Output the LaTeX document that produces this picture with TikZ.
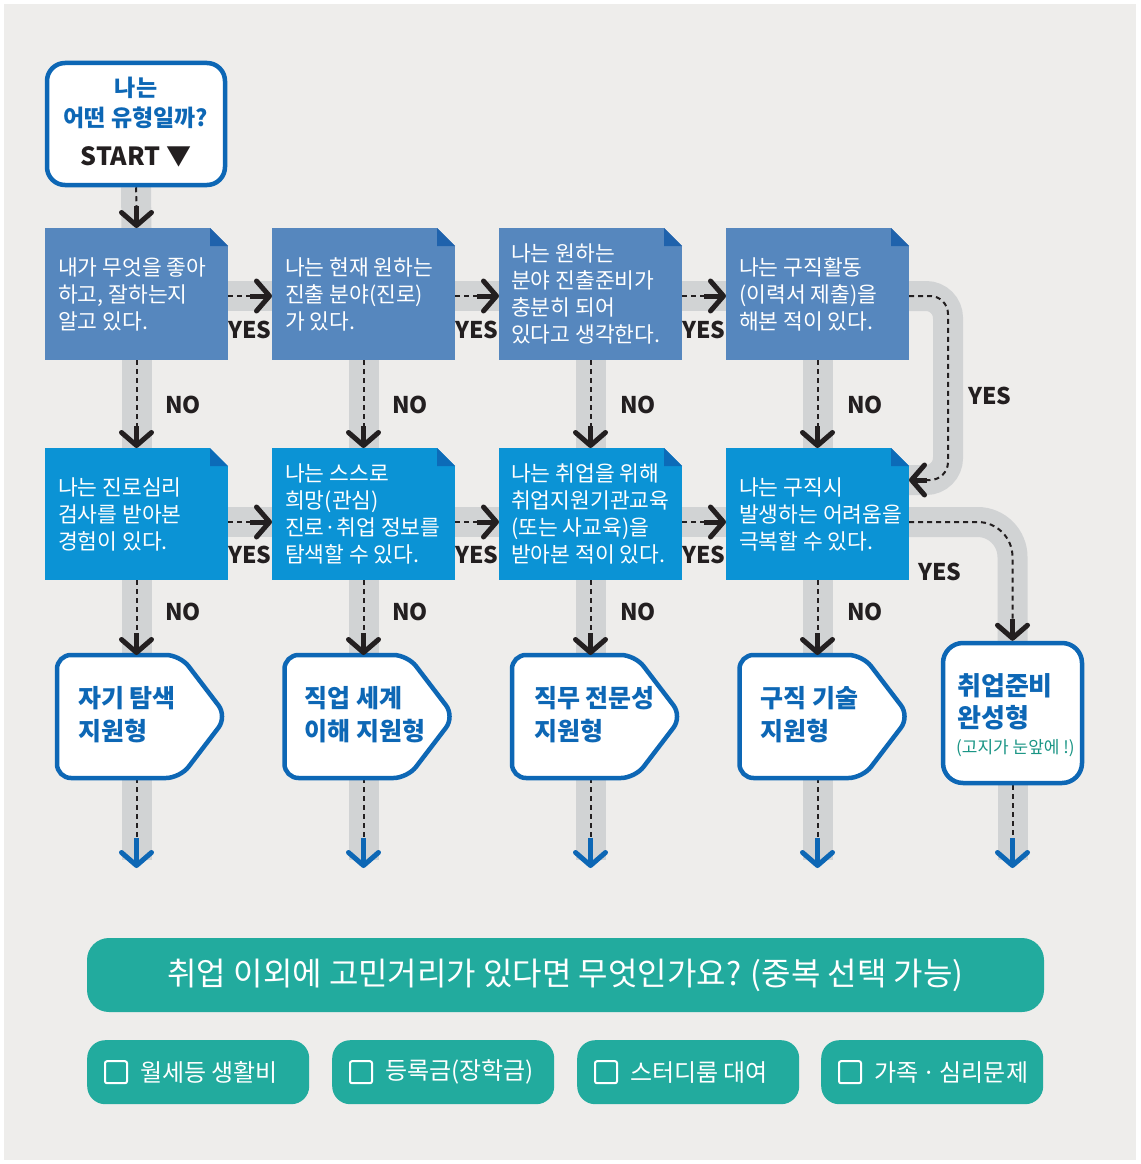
\documentclass[tikz,border=0pt]{standalone}
\usepackage{fontspec}
\setmainfont{Noto Sans CJK KR}
\usetikzlibrary{arrows.meta,calc}
\definecolor{bg}{HTML}{EEEDEB}
\definecolor{bandgray}{HTML}{D1D3D4}
\definecolor{row1}{HTML}{5687BE}
\definecolor{fold1}{HTML}{1F62AC}
\definecolor{row2}{HTML}{0B93D5}
\definecolor{fold2}{HTML}{0C6BB8}
\definecolor{navy}{HTML}{0D67B5}
\definecolor{teal}{HTML}{22AB9E}
\definecolor{tealtext}{HTML}{1A9585}
\definecolor{ink}{HTML}{231F20}
\pgfdeclarelayer{back}
\pgfdeclarelayer{mid}
\pgfsetlayers{back,mid,main}
\begin{document}
\begin{tikzpicture}[x=1pt,y=-1pt,
  q1/.style={fill=row1, minimum width=183pt, minimum height=132pt, anchor=north west, inner sep=0pt, outer sep=0pt},
  q2/.style={q1, fill=row2},
  qt/.style={anchor=west, align=left, text=white, font=\fontsize{21.5}{27}\selectfont, inner sep=0pt},
  band/.style={line width=30pt, draw=bandgray},
  dsh/.style={line width=2pt, draw=ink, dash pattern=on 5pt off 4pt},
  arr/.style={line width=5pt, draw=ink, -{Straight Barb[length=13pt,width=30pt,round]}},
  barr/.style={arr, draw=navy},
  lbl/.style={font=\fontsize{23}{23}\selectfont\bfseries, text=ink, inner sep=0pt},
  res/.style={minimum width=170pt, minimum height=123pt, anchor=north west, inner sep=0pt, outer sep=0pt},
  rline/.style={draw=navy, line width=4.5pt, fill=white, rounded corners=14pt},
  rt/.style={anchor=west, align=left, text=navy, font=\fontsize{25}{33}\selectfont\bfseries, inner sep=0pt},
  btn/.style={fill=teal, rounded corners=18pt, minimum width=222pt, minimum height=64pt, anchor=north west, inner sep=0pt},
  chk/.style={draw=white, line width=2pt, rounded corners=2pt, minimum size=22pt, inner sep=0pt, anchor=west},
  bt/.style={anchor=west, text=white, font=\fontsize{24}{24}\selectfont, inner sep=0pt}
]
\useasboundingbox (0,0) rectangle (1140,1164);
\begin{pgfonlayer}{back}
\fill[white] (0,0) rectangle (1140,1164);
\fill[bg] (4,4) rectangle (1136,1160);
\end{pgfonlayer}

% start
\node[draw=navy, line width=4.5pt, fill=white, rounded corners=18pt, minimum width=178pt, minimum height=122pt, inner sep=0pt] (st) at (136,124) {};
\node[align=center, inner sep=0pt, text=navy, font=\fontsize{23}{30}\selectfont\bfseries] (stt) at (136,103) {나는\\어떤 유형일까?};
\node[inner sep=0pt, text=ink, font=\fontsize{25}{25}\selectfont\bfseries] (sts) at (136,157) {START ▼};

% question boxes
\node[q1] (b11) at (45,228) {};
\node[q1] (b12) at (272,228) {};
\node[q1] (b13) at (499,228) {};
\node[q1] (b14) at (726,228) {};
\node[q2] (b21) at (45,448) {};
\node[q2] (b22) at (272,448) {};
\node[q2] (b23) at (499,448) {};
\node[q2] (b24) at (726,448) {};
\foreach \b in {b11,b12,b13,b14}{
  \fill[bg] ($(\b.north east)+(-18,0)$) -- (\b.north east) -- ($(\b.north east)+(0,18)$) -- cycle;
  \fill[fold1] ($(\b.north east)+(-18,0)$) -- ($(\b.north east)+(-18,18)$) -- ($(\b.north east)+(0,18)$) -- cycle;
}
\foreach \b in {b21,b22,b23,b24}{
  \fill[bg] ($(\b.north east)+(-18,0)$) -- (\b.north east) -- ($(\b.north east)+(0,18)$) -- cycle;
  \fill[fold2] ($(\b.north east)+(-18,0)$) -- ($(\b.north east)+(-18,18)$) -- ($(\b.north east)+(0,18)$) -- cycle;
}
\node[qt] (t11) at ($(b11.west)+(13,0)$) {내가 무엇을 좋아\\하고, 잘하는지\\알고 있다.};
\node[qt] (t12) at ($(b12.west)+(13,0)$) {나는 현재 원하는\\진출 분야(진로)\\가 있다.};
\node[qt] (t13) at ($(b13.west)+(12,0)$) {나는 원하는\\분야 진출준비가\\충분히 되어\\있다고 생각한다.};
\node[qt] (t14) at ($(b14.west)+(13,0)$) {나는 구직활동\\(이력서 제출)을\\해본 적이 있다.};
\node[qt] (t21) at ($(b21.west)+(13,0)$) {나는 진로심리\\검사를 받아본\\경험이 있다.};
\node[qt] (t22) at ($(b22.west)+(13,0)$) {나는 스스로\\희망(관심)\\진로·취업 정보를\\탐색할 수 있다.};
\node[qt] (t23) at ($(b23.west)+(12,0)$) {나는 취업을 위해\\취업지원기관교육\\(또는 사교육)을\\받아본 적이 있다.};
\node[qt] (t24) at ($(b24.west)+(13,0)$) {나는 구직시\\발생하는 어려움을\\극복할 수 있다.};

% results
\node[res] (r1) at (57,655) {};
\node[res] (r2) at (284.5,655) {};
\node[res] (r3) at (512,655) {};
\node[res] (r4) at (739.5,655) {};
\foreach \r in {r1,r2,r3,r4}{
  \draw[rline] (\r.north west) -- ($(\r.north east)+(-47,0)$) -- (\r.east) -- ($(\r.south east)+(-47,0)$) -- (\r.south west) -- cycle;
}
\node[draw=navy, line width=4.5pt, fill=white, rounded corners=20pt, minimum width=139pt, minimum height=140pt, inner sep=0pt] (r5) at (1012.5,713) {};
\node[rt] (rt1) at ($(r1.west)+(21,-2)$) {자기 탐색\\지원형};
\node[rt] (rt2) at ($(r2.west)+(20,-2)$) {직업 세계\\이해 지원형};
\node[rt] (rt3) at ($(r3.west)+(22,-2)$) {직무 전문성\\지원형};
\node[rt] (rt4) at ($(r4.west)+(21,-2)$) {구직 기술\\지원형};
\node[rt, font=\fontsize{26}{32}\selectfont\bfseries] (rt5) at (957,702) {취업준비\\완성형};
\node[anchor=west, inner sep=0pt, text=tealtext, font=\fontsize{17}{17}\selectfont] (rt5b) at (956,748) {(고지가 눈앞에 !)};

% connectors: bands and dashes
\coordinate (e1) at ($(b21.south |- 0,868)$);
\coordinate (e2) at ($(b22.south |- 0,868)$);
\coordinate (e3) at ($(b23.south |- 0,868)$);
\coordinate (e4) at ($(b24.south |- 0,868)$);
\coordinate (e5) at (1012.5,868);
\begin{pgfonlayer}{mid}
\draw[band] (st.south) -- (b11.north);
\draw[dsh] (st.south) -- ($(b11.north)+(0,-22)$);
\foreach \a/\b in {b11/b12,b12/b13,b13/b14}{
  \draw[band] ($(\a.east)+(0,2)$) -- ($(\b.west)+(0,2)$);
  \draw[dsh] ($(\a.east)+(0,2)$) -- ($(\b.west)+(-22,2)$);
}
\foreach \a/\b in {b21/b22,b22/b23,b23/b24}{
  \draw[band] ($(\a.east)+(0,8)$) -- ($(\b.west)+(0,8)$);
  \draw[dsh] ($(\a.east)+(0,8)$) -- ($(\b.west)+(-22,8)$);
}
\foreach \a/\b in {b11/b21,b12/b22,b13/b23,b14/b24}{
  \draw[band] (\a.south) -- (\b.north);
  \draw[dsh] (\a.south) -- ($(\b.north)+(0,-22)$);
}
\foreach \a/\b in {b21/r1,b22/r2,b23/r3,b24/r4}{
  \draw[band] (\a.south) -- (\a.south |- \b.north);
  \draw[dsh] (\a.south) -- ($(\a.south |- \b.north)+(0,-22)$);
}
\foreach \a/\b/\e in {b21/r1/e1,b22/r2/e2,b23/r3/e3,b24/r4/e4}{
  \draw[band] (\a.south |- \b.south) -- ($(\e)+(0,-8)$);
  \draw[dsh] (\a.south |- \b.south) -- ($(\e)+(0,-30)$);
}
\draw[band] (r5.south) -- ($(e5)+(0,-8)$);
\draw[dsh] (r5.south) -- ($(e5)+(0,-30)$);
% loop b14 -> b24
\draw[band, rounded corners=22pt] ($(b14.east)+(0,2)$) -- (948,296) -- (948,480) -- (b24.east |- 0,480);
\draw[dsh, rounded corners=18pt] ($(b14.east)+(0,2)$) -- (948,296) -- (948,480) -- (927,480);
% b24 -> r5
\draw[band, rounded corners=35pt] ($(b24.east)+(0,8)$) -| (r5.north);
\draw[dsh, rounded corners=35pt] ($(b24.east)+(0,8)$) -| ($(r5.north)+(0,-22)$);
\end{pgfonlayer}

% arrowheads
\draw[arr] ($(b11.north)+(0,-22)$) -- (b11.north);
\foreach \b in {b12,b13,b14}{
  \draw[arr] ($(\b.west)+(-22,2)$) -- ($(\b.west)+(0,2)$);
}
\foreach \b in {b22,b23,b24}{
  \draw[arr] ($(\b.west)+(-22,8)$) -- ($(\b.west)+(0,8)$);
}
\foreach \b in {b21,b22,b23,b24}{
  \draw[arr] ($(\b.north)+(0,-22)$) -- (\b.north);
}
\foreach \a/\b in {b21/r1,b22/r2,b23/r3,b24/r4}{
  \draw[arr] ($(\a.south |- \b.north)+(0,-22)$) -- (\a.south |- \b.north);
}
\draw[arr] (927,480) -- (b24.east |- 0,480);
\draw[arr] ($(r5.north)+(0,-22)$) -- (r5.north);
\foreach \e in {e1,e2,e3,e4,e5}{
  \draw[barr] ($(\e)+(0,-30)$) -- (\e);
}

% labels
\node[lbl] (y1) at (250,330) {YES};
\node[lbl] (y2) at (477,330) {YES};
\node[lbl] (y3) at (704,330) {YES};
\node[lbl] (y4) at (990,396) {YES};
\node[lbl] (y5) at (250,555) {YES};
\node[lbl] (y6) at (477,555) {YES};
\node[lbl] (y7) at (704,555) {YES};
\node[lbl] (y8) at (940,572) {YES};
\node[lbl] (n1) at (183,405) {NO};
\node[lbl] (n2) at (410,405) {NO};
\node[lbl] (n3) at (638,405) {NO};
\node[lbl] (n4) at (865,405) {NO};
\node[lbl] (n5) at (183,612) {NO};
\node[lbl] (n6) at (410,612) {NO};
\node[lbl] (n7) at (638,612) {NO};
\node[lbl] (n8) at (865,612) {NO};

% bottom question
\node[fill=teal, rounded corners=22pt, minimum width=957pt, minimum height=74pt, inner sep=0pt, text=white, font=\fontsize{32}{32}\selectfont] (tb) at (565.5,975) {취업 이외에 고민거리가 있다면 무엇인가요? (중복 선택 가능)};
\node[btn] (k1) at (87,1040) {};
\node[btn] (k2) at (332,1040) {};
\node[btn] (k3) at (577,1040) {};
\node[btn] (k4) at (821,1040) {};
\foreach \k in {k1,k2,k3,k4}{
  \node[chk] (\k c) at ($(\k.west)+(17,0)$) {};
}
\node[bt] (kt1) at ($(k1.west)+(53,0)$) {월세등 생활비};
\node[bt] (kt2) at ($(k2.west)+(53,0)$) {등록금(장학금)};
\node[bt] (kt3) at ($(k3.west)+(53,0)$) {스터디룸 대여};
\node[bt] (kt4) at ($(k4.west)+(53,0)$) {가족\,·\,심리문제};
\end{tikzpicture}
\end{document}
